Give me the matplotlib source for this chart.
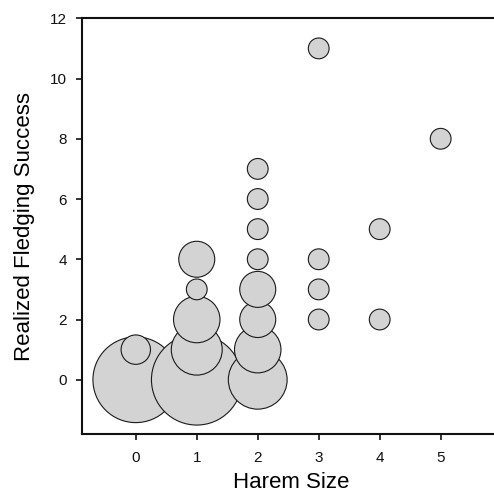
"""
Bubble plot of realized fledging success against harem size.
Bubble area is proportional to the number of cases.
"""

import matplotlib
matplotlib.use("Agg")
import matplotlib.pyplot as plt

# Data
harem_size = [0, 0,
              1, 1, 1, 1, 1,
              2, 2, 2, 2, 2, 2, 2, 2,
              3, 3, 3, 3,
              4, 4,
              5]
fledging = [0, 1,
            0, 1, 2, 3, 4,
            0, 1, 2, 3, 4, 5, 6, 7,
            2, 3, 4, 11,
            2, 5,
            8]
n_cases = [17, 2,
           19, 6, 5, 1, 3,
           8, 5, 3, 3, 1, 1, 1, 1,
           1, 1, 1, 1,
           1, 1,
           1]

x_ticks = [0, 1, 2, 3, 4, 5]
y_ticks = [0, 2, 4, 6, 8, 10, 12]

plt.rcParams['font.family'] = ['Liberation Sans', 'DejaVu Sans']

fig = plt.figure(figsize=(4.94, 4.94), dpi=100)
# right edge of the axes lies past the figure, as in the cropped original
ax = fig.add_axes([0.165, 0.1215, 0.848, 0.8415])

# one unit of count -> about 224 pt^2 marker area
sizes = [224 * n for n in n_cases]
ax.scatter(harem_size, fledging, s=sizes, c='#d3d3d3',
           edgecolors='#1a1a1a', linewidths=0.8, zorder=3)

ax.set_xlim(-0.89, 5.98)
ax.set_ylim(-1.8, 12)
ax.set_xticks(x_ticks)
ax.set_yticks(y_ticks)

for side in ['left', 'bottom', 'top', 'right']:
    ax.spines[side].set_linewidth(1.5)
    ax.spines[side].set_color('#111111')

ax.tick_params(direction='out', length=4, width=1.2, labelsize=11,
               colors='#111111', top=False, right=False)
ax.tick_params(axis='x', pad=8)
ax.tick_params(axis='y', pad=6.5)

ax.set_xlabel('Harem Size', fontsize=16, labelpad=5)
ax.set_ylabel('Realized Fledging Success', fontsize=16, labelpad=11)

fig.savefig('out.png', dpi=100)
